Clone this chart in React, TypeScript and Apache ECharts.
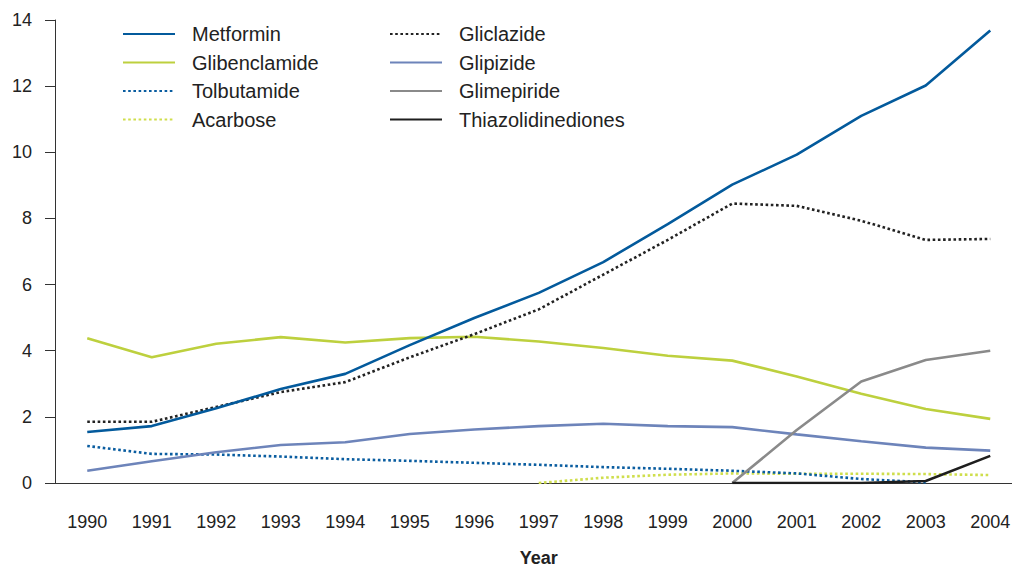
import React, { useEffect, useRef } from "react";
import * as echarts from "echarts";

const years = ["1990","1991","1992","1993","1994","1995","1996","1997","1998","1999","2000","2001","2002","2003","2004"];
const metformin = [1.54, 1.72, 2.26, 2.84, 3.3, 4.17, 4.99, 5.75, 6.68, 7.83, 9.02, 9.93, 11.1, 12.02, 13.68];
const glibenclamide = [4.38, 3.8, 4.21, 4.41, 4.25, 4.38, 4.42, 4.28, 4.08, 3.85, 3.7, 3.22, 2.7, 2.24, 1.94];
const tolbutamide = [1.12, 0.88, 0.86, 0.8, 0.72, 0.67, 0.61, 0.55, 0.48, 0.43, 0.37, 0.29, 0.12, 0.02, null];
const acarbose = [null, null, null, null, null, null, null, 0, 0.16, 0.25, 0.29, 0.28, 0.28, 0.27, 0.24];
const gliclazide = [1.85, 1.85, 2.3, 2.75, 3.05, 3.8, 4.5, 5.25, 6.3, 7.35, 8.45, 8.38, 7.93, 7.35, 7.38];
const glipizide = [0.37, 0.66, 0.93, 1.15, 1.23, 1.48, 1.62, 1.72, 1.79, 1.72, 1.69, 1.47, 1.26, 1.07, 0.98];
const glimepiride = [null, null, null, null, null, null, null, null, null, null, 0, 1.6, 3.07, 3.72, 4.0];
const thiazolidinediones = [null, null, null, null, null, null, null, null, null, null, 0, 0, 0, 0.06, 0.82];
const yTicks = [0, 2, 4, 6, 8, 10, 12, 14];

const FONT = "'Liberation Sans', Arial, Helvetica, sans-serif";

export default function App() {
  const ref = useRef<HTMLDivElement>(null);
  useEffect(() => {
    if (!ref.current) return;
    const chart = echarts.init(ref.current, null, { renderer: "svg" });
    const mk = (name: string, data: (number | null)[], color: string, dotted: boolean, z: number) => ({
      name,
      type: "line",
      data,
      symbol: "none",
      z,
      connectNulls: false,
      lineStyle: { color, width: 2.6, type: dotted ? [2.6, 2.6] : "solid" },
      itemStyle: { color },
    });
    const legendCommon = {
      orient: "vertical",
      top: 24,
      padding: 0,
      itemWidth: 52,
      itemHeight: 20,
      itemGap: 8.5,
      itemStyle: { opacity: 0 },
      textStyle: { fontFamily: FONT, fontSize: 20, color: "#222", padding: [0, 0, 0, 12], lineHeight: 20 },
      selectedMode: false,
    };
    chart.setOption({
      animation: false,
      textStyle: { fontFamily: FONT },
      grid: { left: 55, top: 20, bottom: 85, right: -10.5, containLabel: false, outerBoundsMode: "none" },
      legend: [
        { ...legendCommon, left: 122, data: ["Metformin", "Glibenclamide", "Tolbutamide", "Acarbose"] },
        { ...legendCommon, left: 389, data: ["Gliclazide", "Glipizide", "Glimepiride", "Thiazolidinediones"] },
      ],
      xAxis: {
        type: "category",
        data: years,
        boundaryGap: true,
        name: "Year",
        nameLocation: "middle",
        nameGap: 66,
        nameTextStyle: { fontFamily: FONT, fontSize: 18, lineHeight: 18, fontWeight: "bold", color: "#222" },
        axisLine: { lineStyle: { color: "#333", width: 1 } },
        axisTick: { alignWithLabel: true, length: 10, lineStyle: { color: "#555" } },
        axisLabel: { margin: 30, fontFamily: FONT, fontSize: 18, color: "#222", interval: 0 },
        splitLine: { show: false },
      },
      yAxis: {
        type: "value",
        min: yTicks[0],
        max: yTicks[yTicks.length - 1],
        interval: 2,
        axisLine: { show: true, lineStyle: { color: "#333", width: 1 } },
        axisTick: { show: true, length: 10, lineStyle: { color: "#333" } },
        axisLabel: { margin: 23, fontFamily: FONT, fontSize: 18, color: "#222" },
        splitLine: { show: false },
      },
      series: [
        mk("Metformin", metformin, "#035a9c", false, 10),
        mk("Glibenclamide", glibenclamide, "#bdd03e", false, 5),
        mk("Tolbutamide", tolbutamide, "#0a5da0", true, 4),
        mk("Acarbose", acarbose, "#cfde4c", true, 3),
        mk("Gliclazide", gliclazide, "#222222", true, 6),
        mk("Glipizide", glipizide, "#6d84ba", false, 4),
        mk("Glimepiride", glimepiride, "#8a8a8a", false, 5),
        mk("Thiazolidinediones", thiazolidinediones, "#1e1e1e", false, 6),
      ],
    });
    return () => chart.dispose();
  }, []);
  return (
    <div
      style={{ position: "absolute", left: 0, top: 0, width: 1012, height: 568, overflow: "hidden", background: "#fff" }}
    >
      <div ref={ref} style={{ width: 1012, height: 568, overflow: "hidden" }} />
    </div>
  );
}
